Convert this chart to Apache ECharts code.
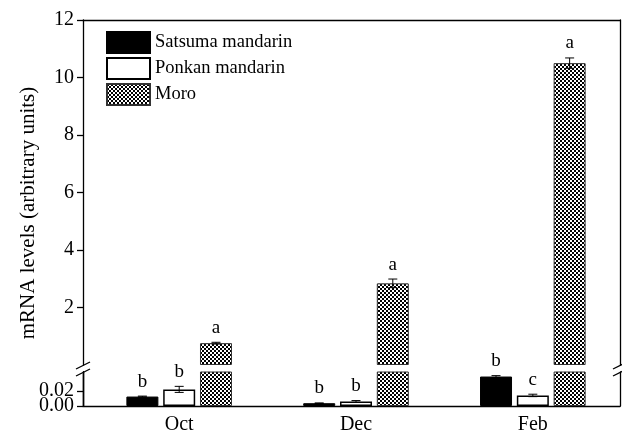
<!DOCTYPE html>
<html>
<head>
<meta charset="utf-8">
<script src="https://cdn.jsdelivr.net/npm/echarts@6/dist/echarts.min.js"></script>
<style>
html, body { margin: 0; padding: 0; background: #fff; }
#chart { width: 622px; height: 435px; }
</style>
</head>
<body>
<div id="chart"></div>
<script>
// data
const months = ['Oct', 'Dec', 'Feb'];
const seriesNames = ['Satsuma mandarin', 'Ponkan mandarin', 'Moro'];
const satsuma = [0.0125, 0.0037, 0.039];
const satsumaErr = [0.0006, 0.0004, 0.0012];
const satsumaSig = ['b', 'b', 'b'];
const ponkan = [0.022, 0.006, 0.014];
const ponkanErr = [0.004, 0.0012, 0.0016];
const ponkanSig = ['b', 'b', 'c'];
const moro = [0.76, 2.84, 10.5];
const moroErr = [0.03, 0.15, 0.18];
const moroSig = ['a', 'a', 'a'];
const upperTicks = [2, 4, 6, 8, 10, 12];
const lowerTicks = [0, 0.02];

const FONT = '"Liberation Serif", "Times New Roman", serif';
const BAR_W = 32;
const GAP = 0.15;
const LEFT = 83, RIGHT = 2;
const UP_TOP = 20, UP_H = 345;
const LOW_TOP = 372, LOW_H = 34;
const LOW_MAX = 0.045;
const X_MIN = -0.544, X_MAX = 2.493;

// crosshatch fill for Moro
const tile = document.createElement('canvas');
tile.width = 4; tile.height = 4;
const g = tile.getContext('2d');
g.fillStyle = '#fff'; g.fillRect(0, 0, 4, 4);
g.fillStyle = '#000'; g.fillRect(0, 0, 2, 2); g.fillRect(2, 2, 2, 2);
const hatch = { image: tile, repeat: 'repeat' };

const styles = [
    { color: '#000', borderColor: '#000', borderWidth: 1 },
    { color: '#fff', borderColor: '#000', borderWidth: 1.5 },
    { color: hatch, borderColor: '#333', borderWidth: 1 }
];

const myChart = echarts.init(document.getElementById('chart'));

function barSeries(idx, vals, gridIdx) {
    return {
        name: seriesNames[idx],
        type: 'bar',
        xAxisIndex: gridIdx,
        yAxisIndex: gridIdx,
        barWidth: BAR_W,
        barGap: (GAP * 100) + '%',
        itemStyle: styles[idx],
        emphasis: { disabled: true },
        data: vals.map((v, i) => [i, v])
    };
}

function errSeries(slot, vals, errs, sigs, gridIdx) {
    return {
        type: 'custom',
        xAxisIndex: gridIdx,
        yAxisIndex: gridIdx,
        z: 5,
        silent: true,
        data: vals.map((v, i) => [i, v, errs[i]]),
        renderItem: function (params, api) {
            const i = params.dataIndex;
            const x = api.value(0), v = api.value(1), e = api.value(2);
            const off = (slot - 1) * BAR_W * (1 + GAP);
            const top = api.coord([x, v + e]);
            const bot = api.coord([x, v - e]);
            const cx = top[0] + off;
            const hw = 4.5;
            const ls = { stroke: '#000', lineWidth: 1 };
            return {
                type: 'group',
                children: [
                    { type: 'line', shape: { x1: cx, y1: top[1], x2: cx, y2: bot[1] }, style: ls },
                    { type: 'line', shape: { x1: cx - hw, y1: top[1], x2: cx + hw, y2: top[1] }, style: ls },
                    { type: 'line', shape: { x1: cx - hw, y1: bot[1], x2: cx + hw, y2: bot[1] }, style: ls },
                    {
                        type: 'text', x: cx, y: top[1] - 5,
                        style: { text: sigs[i], align: 'center', verticalAlign: 'bottom', fontSize: 19, fontFamily: FONT, fill: '#000' }
                    }
                ]
            };
        }
    };
}

const lineStyle = { color: '#000', width: 1.3 };
const blank = months.map(() => '-');

const brk = { stroke: '#000', lineWidth: 1.3 };
const R_X = 622 - RIGHT;
const yMid = UP_TOP + UP_H + 3;

function frameAxis(gridIdx, extra) {
    return Object.assign({
        type: 'value', gridIndex: gridIdx,
        axisLine: { show: true, onZero: false, lineStyle: lineStyle },
        axisTick: { show: false }, axisLabel: { show: false }, splitLine: { show: false }
    }, extra);
}

// one left axis per lower tick so the two close labels are never culled
const lowerLabelAxes = lowerTicks.map(t => frameAxis(1, {
    min: 0, max: LOW_MAX, position: 'left',
    axisTick: { show: true, length: 6, customValues: [t], lineStyle: lineStyle },
    axisLabel: {
        show: true, customValues: [t], formatter: v => v.toFixed(2),
        showMinLabel: true, showMaxLabel: true,
        fontSize: 20, fontFamily: FONT, color: '#000', margin: 9
    }
}));

const option = {
    animation: false,
    textStyle: { fontFamily: FONT },
    legend: {
        left: 106,
        top: 31,
        padding: 0,
        orient: 'vertical',
        itemWidth: 43,
        itemHeight: 21,
        itemGap: 3,
        icon: 'rect',
        selectedMode: false,
        textStyle: { fontSize: 18.5, fontFamily: FONT, color: '#000' },
        data: seriesNames
    },
    grid: [
        { left: LEFT, right: RIGHT, top: UP_TOP, height: UP_H },
        { left: LEFT, right: RIGHT, top: LOW_TOP, height: LOW_H }
    ],
    xAxis: [
        frameAxis(0, { min: X_MIN, max: X_MAX, position: 'top' }),
        frameAxis(1, {
            min: X_MIN, max: X_MAX, position: 'bottom',
            axisLabel: {
                show: true,
                customValues: [0, 1, 2],
                formatter: v => months[Math.round(v)],
                fontSize: 20, fontFamily: FONT, color: '#000', margin: 9
            }
        })
    ],
    yAxis: [
        frameAxis(0, {
            min: 0, max: 12, position: 'left',
            axisTick: { show: true, length: 6, customValues: upperTicks, lineStyle: lineStyle },
            axisLabel: { show: true, customValues: upperTicks, fontSize: 20, fontFamily: FONT, color: '#000', margin: 9 }
        }),
        frameAxis(1, { min: 0, max: LOW_MAX, position: 'left' }),
        frameAxis(0, { min: 0, max: 12, position: 'right' }),
        frameAxis(1, { min: 0, max: LOW_MAX, position: 'right' })
    ].concat(lowerLabelAxes),
    series: [
        barSeries(0, satsuma, 1),
        barSeries(1, ponkan, 1),
        barSeries(2, moro, 1),
        barSeries(0, blank, 0),
        barSeries(1, blank, 0),
        barSeries(2, moro, 0),
        errSeries(0, satsuma, satsumaErr, satsumaSig, 1),
        errSeries(1, ponkan, ponkanErr, ponkanSig, 1),
        errSeries(2, moro, moroErr, moroSig, 0)
    ],
    graphic: [
        { type: 'line', shape: { x1: LEFT - 7, y1: yMid + 1, x2: LEFT + 7, y2: yMid - 6 }, style: brk },
        { type: 'line', shape: { x1: LEFT - 7, y1: yMid + 8, x2: LEFT + 7, y2: yMid + 1 }, style: brk },
        { type: 'line', shape: { x1: R_X - 7, y1: yMid + 1, x2: R_X + 7, y2: yMid - 6 }, style: brk },
        { type: 'line', shape: { x1: R_X - 7, y1: yMid + 8, x2: R_X + 7, y2: yMid + 1 }, style: brk },
        {
            type: 'text', x: 28, y: (UP_TOP + LOW_TOP + LOW_H) / 2, rotation: Math.PI / 2,
            style: {
                text: 'mRNA levels (arbitrary units)', align: 'center', verticalAlign: 'middle',
                fontSize: 21, fontFamily: FONT, fill: '#000'
            }
        }
    ]
};

myChart.setOption(option);
</script>
</body>
</html>
